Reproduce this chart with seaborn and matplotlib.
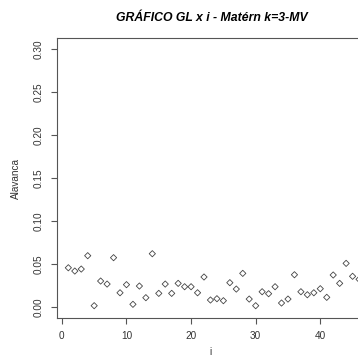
import numpy as np
import matplotlib
matplotlib.use("Agg")
import matplotlib.pyplot as plt
import seaborn as sns

obs = np.arange(1, 47)
alavanca = [0.0459, 0.0421, 0.0444, 0.0599, 0.0019, 0.0305, 0.0270, 0.0576, 0.0169, 0.0263,
            0.0035, 0.0247, 0.0112, 0.0622, 0.0162, 0.0270, 0.0162, 0.0278, 0.0239, 0.0239,
            0.0169, 0.0352, 0.0085, 0.0100, 0.0077, 0.0286, 0.0212, 0.0394, 0.0096, 0.0019,
            0.0181, 0.0158, 0.0239, 0.0050, 0.0096, 0.0378, 0.0181, 0.0146, 0.0169, 0.0216,
            0.0116, 0.0375, 0.0278, 0.0510, 0.0360, 0.0325]
yticks = [0.00, 0.05, 0.10, 0.15, 0.20, 0.25, 0.30]
xticks = [0, 10, 20, 30, 40]

sns.set_style("ticks")
plt.rcParams['font.family'] = ['Liberation Sans', 'DejaVu Sans']

fig = plt.figure(figsize=(3.58, 3.61), dpi=100)
ax = fig.add_axes([0.1584, 0.12, 0.877, 0.7737])

sns.scatterplot(x=obs, y=alavanca, marker='D', s=10, facecolor='none',
                edgecolor='#444444', linewidth=0.6, ax=ax)

ax.set_xlim(-0.8, 47.8)
ax.set_ylim(-0.012, 0.312)
ax.set_xticks(xticks)
ax.set_yticks(yticks)
ax.set_yticklabels(["%.2f" % v for v in yticks], rotation=90, va='center')
ax.tick_params(labelsize=7.2, colors='#555555', labelcolor='#333333', length=4.3, width=0.8, pad=5)
for s in ax.spines.values():
    s.set_color('#555555')
    s.set_linewidth(0.8)

ax.set_xlabel("i", fontsize=7.2, color='#333333')
ax.set_ylabel("Alavanca", fontsize=7.2, color='#333333')
ax.xaxis.set_label_coords(0.49, -0.105)
ax.yaxis.set_label_coords(-0.1146, 0.5)

fig.text(212 / 358, 1 - 18 / 361, "GRÁFICO GL x i - Matérn k=3-MV", ha='center', va='center',
         fontsize=8.8, fontweight='bold', fontstyle='italic', color='black')

fig.savefig("out.png", dpi=100)
